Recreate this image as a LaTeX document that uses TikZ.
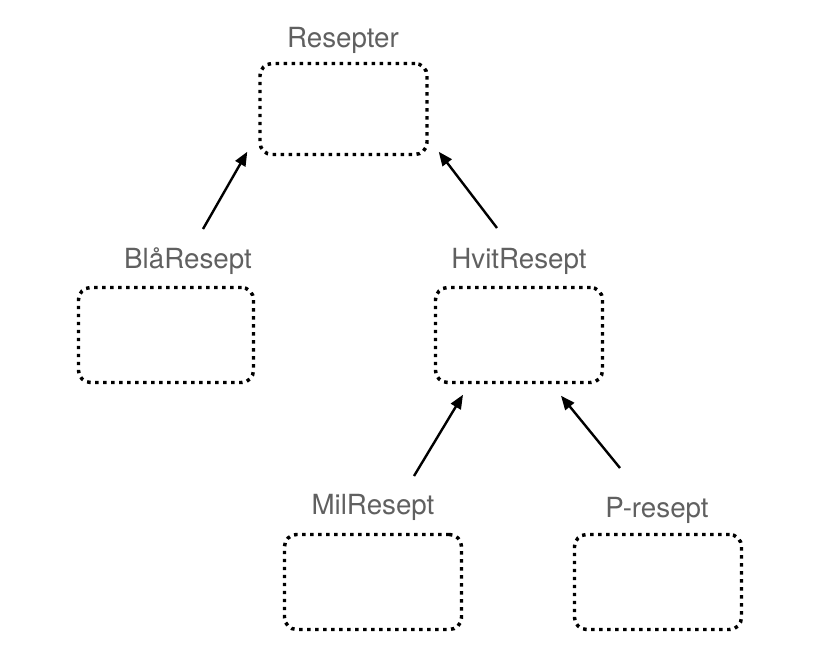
\documentclass[tikz,border=0pt]{standalone}
\usepackage{fontspec}
\setmainfont{TeX Gyre Heros}
\usetikzlibrary{arrows.meta}

\definecolor{labelgray}{RGB}{96,96,96}

\tikzset{every picture/.style={line width=0.75pt}}
\tikzset{
    rbox/.style 2 args={draw, line width=2.6pt, dash pattern=on 2.6pt off 3.4pt,
        rounded corners=9pt, minimum width=#1, minimum height=#2, inner sep=0pt},
    rlabel/.style={anchor=base, inner sep=0.75pt, text=labelgray,
        font=\fontsize{20.8}{23}\selectfont},
    inherit/.style={line width=1.8pt, -{Triangle[length=10.5pt,width=8.5pt]}}
}

\begin{document}
\begin{tikzpicture}[x=0.75pt,y=0.75pt,yscale=-1,xscale=1]
    \useasboundingbox (0,0) rectangle (822,658);

    %Rounded Rect [id:resepter] 
    \node [rbox={125.25pt}{68.25pt}] (resepter) at (343.5,109) {};
    %Rounded Rect [id:bla] 
    \node [rbox={131.25pt}{71.25pt}] (bla) at (166,335) {};
    %Rounded Rect [id:hvit] 
    \node [rbox={125.25pt}{71.25pt}] (hvit) at (519,335) {};
    %Rounded Rect [id:mil] 
    \node [rbox={132.75pt}{71.25pt}] (mil) at (373,582) {};
    %Rounded Rect [id:presept] 
    \node [rbox={125.25pt}{71.25pt}] (presept) at (658,582) {};

    % Text Node
    \node [rlabel] (resepterLabel) at (343,47) {Resepter};
    % Text Node
    \node [rlabel] (blaLabel) at (188,268) {BlåResept};
    % Text Node
    \node [rlabel] (hvitLabel) at (519,268) {HvitResept};
    % Text Node
    \node [rlabel] (milLabel) at (373,514) {MilResept};
    % Text Node
    \node [rlabel] (preseptLabel) at (657,517) {P-resept};

    %Straight Lines [id:bla-resepter] 
    \draw [inherit] ([shift={(15,-39)}]blaLabel.base) -- ([shift={(-11,-4.5)}]resepter.south west);
    %Straight Lines [id:hvit-resepter] 
    \draw [inherit] ([shift={(-22,-40)}]hvitLabel.base) -- ([shift={(10,-4.5)}]resepter.south east);
    %Straight Lines [id:mil-hvit] 
    \draw [inherit] ([shift={(41,-38)}]milLabel.base) -- ([shift={(-56,10.5)}]hvit.south);
    %Straight Lines [id:presept-hvit] 
    \draw [inherit] ([shift={(-37,-49)}]preseptLabel.base) -- ([shift={(42,11.5)}]hvit.south);
\end{tikzpicture}
\end{document}
